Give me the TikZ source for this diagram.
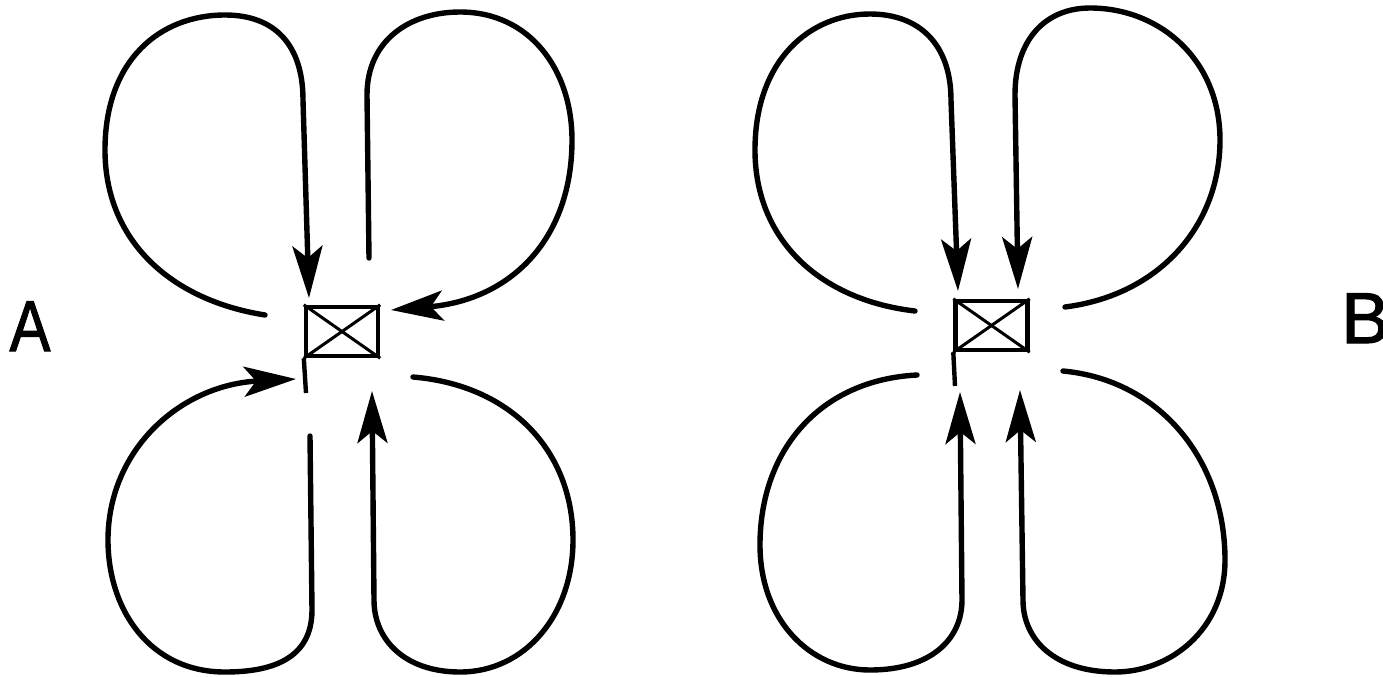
\documentclass[tikz,border=0pt]{standalone}
\usepackage{fontspec}
\setmainfont{Liberation Sans}
\newfontfamily\labfont{Liberation Sans}[FakeBold=1.6]
\usetikzlibrary{arrows.meta}
\tikzset{
  lobe/.style={line width=2.7pt, line cap=round, -{Stealth[length=26pt,width=15pt,inset=6pt]}},
  antbox/.style={draw, line width=2.2pt, inner sep=0pt, minimum width=36pt, minimum height=24.5pt},
  diag/.style={line width=1.5pt},
  pole/.style={line width=2.2pt},
  lab/.style={font=\labfont\fontsize{36}{40}\selectfont, inner sep=0pt}
}
\begin{document}
\begin{tikzpicture}[x=0.5pt,y=-0.5pt]
\useasboundingbox (0,0) rectangle (1383,676);
% ---------- A ----------
\node[antbox] (ba) at (342,331.5) {};
\draw[diag] (ba.north west) -- (ba.south east);
\draw[diag] (ba.south west) -- (ba.north east);
\coordinate (pa) at (306,393);
\draw[pole] (ba.south west) -- (pa);
\coordinate (a1s) at (265,315);
\coordinate (a1t) at (309,298);
\draw[lobe] (a1s) .. controls (170,300) and (105,240) .. (105,150)
  .. controls (105,60) and (160,15) .. (225,15)
  .. controls (275,15) and (303,45) .. (303,100) -- (a1t);
\coordinate (a2s) at (369,258);
\coordinate (a2t) at (391,310);
\draw[lobe] (a2s) -- (367,95) .. controls (367,40) and (410,12) .. (460,12)
  .. controls (530,12) and (572,70) .. (572,140)
  .. controls (572,240) and (510,300) .. (a2t);
\coordinate (a3s) at (310,436);
\coordinate (a3t) at (296,379);
\draw[lobe] (a3s) -- (312,610) .. controls (312,660) and (270,672) .. (225,672)
  .. controls (150,672) and (108,610) .. (108,540)
  .. controls (108,450) and (180,385) .. (a3t);
\coordinate (a4s) at (413,377);
\coordinate (a4t) at (372,391);
\draw[lobe] (a4s) .. controls (510,385) and (573,450) .. (573,540)
  .. controls (573,615) and (525,672) .. (460,672)
  .. controls (405,672) and (374,640) .. (374,600) -- (a4t);
\node[lab, anchor=base] (la) at (30,351) {\scalebox{0.85}[1]{A}};
% ---------- B ----------
\node[antbox] (bb) at (991.5,325.5) {};
\draw[diag] (bb.north west) -- (bb.south east);
\draw[diag] (bb.south west) -- (bb.north east);
\coordinate (pb) at (955,386);
\draw[pole] (bb.south west) -- (pb);
\coordinate (b1s) at (915,311);
\coordinate (b1t) at (958,291);
\draw[lobe] (b1s) .. controls (820,300) and (755,240) .. (755,150)
  .. controls (755,60) and (810,14) .. (870,14)
  .. controls (920,14) and (951,45) .. (951,100) -- (b1t);
\coordinate (b2s) at (1065,307);
\coordinate (b2t) at (1018,289);
\draw[lobe] (b2s) .. controls (1160,295) and (1220,225) .. (1220,140)
  .. controls (1220,60) and (1160,8) .. (1090,8)
  .. controls (1045,8) and (1015,40) .. (1015,95) -- (b2t);
\coordinate (b3s) at (917,375);
\coordinate (b3t) at (960,392);
\draw[lobe] (b3s) .. controls (820,380) and (760,450) .. (760,545)
  .. controls (760,620) and (810,670) .. (870,670)
  .. controls (930,670) and (962,640) .. (962,600) -- (b3t);
\coordinate (b4s) at (1063,371);
\coordinate (b4t) at (1020,390);
\draw[lobe] (b4s) .. controls (1160,380) and (1225,460) .. (1225,560)
  .. controls (1225,630) and (1170,672) .. (1115,672)
  .. controls (1055,672) and (1023,640) .. (1023,600) -- (b4t);
\node[lab, anchor=base west] (lb) at (1341,343) {B};
\end{tikzpicture}
\end{document}
